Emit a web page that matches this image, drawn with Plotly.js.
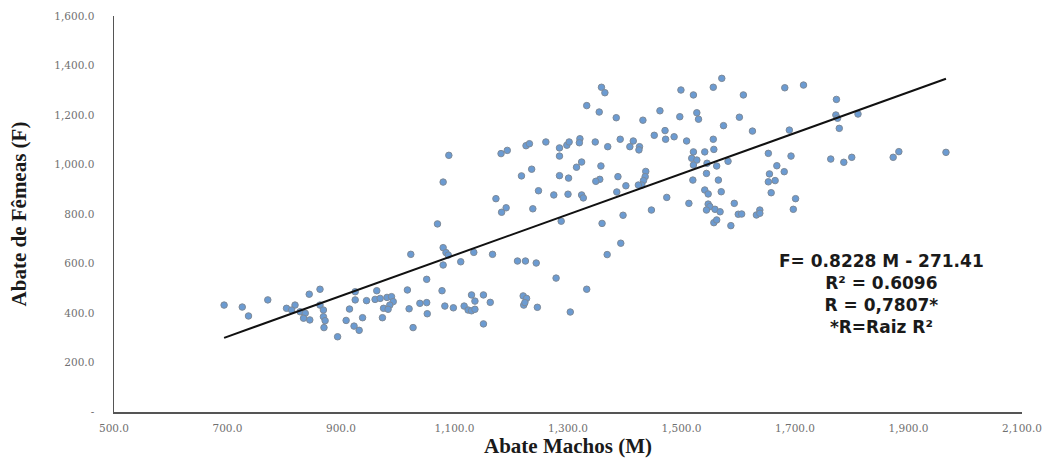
<!DOCTYPE html>
<html>
<head>
<meta charset="utf-8">
<script src="https://cdn.plot.ly/plotly-3.0.1.min.js"></script>
<style>
  html, body { margin: 0; padding: 0; background: #fff; }
  #chart { width: 1049px; height: 462px; }
</style>
</head>
<body>
<div id="chart"></div>
<script>
// Abate Machos (M) — x values
const machos = [
  694, 726, 737, 771, 804, 819, 813, 828, 837, 834, 845, 844, 863, 863, 869, 869, 872, 870,
  894, 915, 909, 938, 923, 932, 925, 925, 945, 960, 969, 981, 989, 992, 986, 963, 975, 983, 973,
  1020, 1027, 1039, 1051, 1052, 1083,
  1359, 1365, 1333, 1355, 1385, 1432, 1090, 1080, 1070, 1182, 1193, 1226, 1232, 1261, 1285,
  1298, 1302, 1321, 1320, 1348, 1370, 1392, 1415, 1409, 1426, 1425, 1285, 1324, 1315, 1358,
  1236, 1218, 1285, 1301, 1356, 1349, 1388, 1437, 1436, 1433, 1430, 1424, 1402, 1386, 1248,
  1275, 1300, 1324, 1327, 1173, 1191, 1183, 1238, 1288, 1360, 1397, 1393, 1369, 1279, 1333,
  1080, 1085, 1089, 1080, 1111, 1134, 1167, 1211, 1225, 1244, 1023, 1051, 1017, 1078, 1130,
  1151, 1221, 1227,
  1098, 1117, 1124, 1130, 1136, 1136, 1163, 1151, 1222, 1224, 1246, 1304,
  1571, 1556, 1499, 1521, 1609, 1462, 1497, 1527, 1530, 1602, 1574, 1452, 1471, 1472, 1487,
  1509, 1556, 1557, 1541, 1521, 1518, 1527, 1521, 1545, 1562, 1582, 1520, 1544, 1565, 1474,
  1513, 1541, 1547, 1570, 1593, 1547, 1550, 1559, 1568, 1544, 1600, 1606, 1557, 1562, 1587,
  1447, 1682, 1715, 1773,
  1772, 1775, 1811, 1778, 1625, 1690, 1653, 1693, 1668, 1681, 1655, 1653, 1665, 1658, 1701,
  1697, 1632, 1638, 1638, 1763, 1786, 1800, 1873, 1883, 1966
];
// Abate de Fêmeas (F) — y values
const femeas = [
  432, 424, 388, 453, 419, 432, 412, 405, 399, 379, 372, 476, 496, 432, 412, 385, 369, 341,
  304, 416, 370, 381, 347, 330, 486, 453, 450, 455, 459, 463, 466, 446, 432, 490, 419, 415, 381,
  417, 341, 439, 442, 397, 428,
  1312, 1290, 1238, 1212, 1189, 1179, 1037, 929, 760, 1044, 1057, 1076, 1084, 1091, 1067,
  1078, 1091, 1104, 1088, 1091, 1072, 1102, 1095, 1072, 1072, 1059, 1034, 1010, 989, 994,
  981, 954, 955, 945, 940, 932, 951, 972, 951, 935, 917, 917, 914, 889, 894,
  877, 880, 877, 865, 862, 825, 807, 821, 771, 762, 795, 682, 636, 541, 496,
  664, 644, 634, 594, 607, 645, 637, 610, 610, 602, 637, 536, 493, 490, 473,
  473, 469, 459,
  421, 428, 412, 409, 415, 448, 443, 356, 432, 442, 423, 404,
  1348, 1312, 1301, 1281, 1281, 1217, 1193, 1209, 1183, 1191, 1157, 1118, 1137, 1102, 1112,
  1095, 1102, 1061, 1051, 1051, 1025, 1018, 998, 1005, 994, 1013, 937, 964, 937, 867,
  843, 897, 881, 890, 843, 840, 830, 819, 809, 816, 799, 800, 765, 776, 753,
  816, 1310, 1321, 1263,
  1200, 1187, 1204, 1146, 1135, 1139, 1045, 1034, 995, 971, 962, 930, 935, 886, 862,
  819, 796, 816, 803, 1022, 1009, 1029, 1029, 1052, 1049
];
// Trend line from the chart's equation
const slope = 0.8228;
const intercept = -271.41;
const xTickVals = [500, 700, 900, 1100, 1300, 1500, 1700, 1900, 2100];
const xTickText = ['500.0', '700.0', '900.0', '1,100.0', '1,300.0', '1,500.0', '1,700.0', '1,900.0', '2,100.0'];
const yTickVals = [0, 200, 400, 600, 800, 1000, 1200, 1400, 1600];
const yTickText = ['-', '200.0', '400.0', '600.0', '800.0', '1,000.0', '1,200.0', '1,400.0', '1,600.0'];
const eqLines = ['F= 0.8228 M - 271.41', 'R² = 0.6096', 'R = 0,7807*', '*R=Raiz R²'];

const xMin = Math.min(...machos), xMax = Math.max(...machos);
const trendX = [xMin, xMax];
const trendY = trendX.map(v => slope * v + intercept);

const scatter = {
  x: machos, y: femeas, type: 'scatter', mode: 'markers',
  marker: { size: 6.5, color: '#6b9bd2', line: { color: '#7e8a98', width: 1 } },
  hoverinfo: 'x+y', showlegend: false
};
const trend = {
  x: trendX, y: trendY, type: 'scatter', mode: 'lines',
  line: { color: '#111111', width: 2 }, hoverinfo: 'skip', showlegend: false
};

const tickFont = { family: 'DejaVu Serif, Liberation Serif, serif', size: 10.5, color: '#707070' };

const layout = {
  width: 1049, height: 462,
  margin: { l: 114, r: 27, t: 16, b: 50 },
  paper_bgcolor: '#ffffff', plot_bgcolor: '#ffffff',
  showlegend: false,
  xaxis: {
    range: [500, 2100], tickvals: xTickVals, ticktext: xTickText,
    showgrid: false, zeroline: false, showline: true, linecolor: '#555555', linewidth: 1.5,
    ticks: '', tickfont: tickFont, ticklabelstandoff: 6,
    title: { text: 'Abate Machos (M)', font: { family: 'Liberation Serif, serif', size: 21, color: '#1a1a1a', weight: 'bold' }, standoff: 5 },
    automargin: false
  },
  yaxis: {
    range: [0, 1600], tickvals: yTickVals, ticktext: yTickText,
    showgrid: false, zeroline: false, showline: true, linecolor: '#555555', linewidth: 1.5,
    ticks: '', tickfont: tickFont, ticklabelstandoff: 16,
    title: { text: 'Abate de Fêmeas (F)', font: { family: 'Liberation Serif, serif', size: 21, color: '#1a1a1a', weight: 'bold' }, standoff: 22 },
    automargin: false
  },
  annotations: [{
    xref: 'x', yref: 'y', x: 1853, y: 477,
    text: eqLines.join('<br>'), showarrow: false, align: 'center',
    xanchor: 'center', yanchor: 'middle',
    font: { family: 'DejaVu Sans, sans-serif', size: 17, color: '#1a1a1a', weight: 'bold' }
  }]
};

Plotly.newPlot('chart', [scatter, trend], layout, { displayModeBar: false, staticPlot: true });
</script>
</body>
</html>
